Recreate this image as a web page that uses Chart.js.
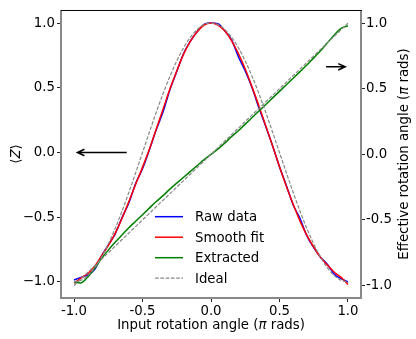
<!DOCTYPE html>
<html>
<head>
<meta charset="utf-8">
<script src="https://cdn.jsdelivr.net/npm/chart.js@4.4.0/dist/chart.umd.min.js"></script>
<style>
  html, body { margin: 0; padding: 0; background: #fff; }
</style>
</head>
<body>
<canvas id="chart" width="416" height="339"></canvas>
<script>
// Input rotation angle (pi rads), shared x values of the measured curves
const angles = [-1.00, -0.95, -0.90, -0.85, -0.80, -0.75, -0.70, -0.65, -0.60, -0.55,
                -0.50, -0.45, -0.40, -0.35, -0.30, -0.25, -0.20, -0.15, -0.10, -0.05,
                 0.00,  0.05,  0.10,  0.15,  0.20,  0.25,  0.30,  0.35,  0.40,  0.45,
                 0.50,  0.55,  0.60,  0.65,  0.70,  0.75,  0.80,  0.85,  0.90,  0.95, 1.00];

// <Z> (left axis)
const rawData = [-0.985, -0.965, -0.945, -0.905, -0.800, -0.715, -0.630, -0.505, -0.390, -0.240,
                 -0.125,  0.020,  0.175,  0.315,  0.485,  0.625,  0.765,  0.860,  0.935,  0.990,
                  1.000,  0.995,  0.940,  0.870,  0.740,  0.630,  0.500,  0.345,  0.200,  0.050,
                 -0.110, -0.255, -0.405, -0.510, -0.645, -0.735, -0.810, -0.865, -0.940, -0.975, -1.000];
const smoothFit = [-1.010, -0.970, -0.935, -0.880, -0.800, -0.720, -0.625, -0.510, -0.380, -0.245,
                   -0.115,  0.025,  0.180,  0.335,  0.490,  0.630,  0.760,  0.860,  0.935,  0.985,
                    1.000,  0.985,  0.940,  0.865,  0.765,  0.645,  0.505,  0.360,  0.205,  0.050,
                   -0.110, -0.260, -0.400, -0.530, -0.640, -0.730, -0.810, -0.870, -0.925, -0.965, -1.020];
const idealZ = [-1.000, -0.988, -0.951, -0.891, -0.809, -0.707, -0.588, -0.454, -0.309, -0.156,
                 0.000,  0.156,  0.309,  0.454,  0.588,  0.707,  0.809,  0.891,  0.951,  0.988,
                 1.000,  0.988,  0.951,  0.891,  0.809,  0.707,  0.588,  0.454,  0.309,  0.156,
                 0.000, -0.156, -0.309, -0.454, -0.588, -0.707, -0.809, -0.891, -0.951, -0.988, -1.000];

// Effective rotation angle (right axis)
const extracted = [-0.975, -0.980, -0.935, -0.870, -0.795, -0.730, -0.670, -0.615, -0.560, -0.510,
                   -0.460, -0.410, -0.360, -0.315, -0.265, -0.220, -0.175, -0.130, -0.085, -0.040,
                    0.000,  0.040,  0.085,  0.135,  0.180,  0.230,  0.280,  0.330,  0.380,  0.430,
                    0.480,  0.530,  0.580,  0.630,  0.680,  0.735,  0.790,  0.850,  0.910,  0.960, 0.980];
const idealLineX = [-1, 1];
const idealLineY = [-1, 1];

const xTicks = [-1, -0.5, 0, 0.5, 1];
const xTickLabels = ['-1.0', '-0.5', '0.0', '0.5', '1.0'];
const zTicks = [-1, -0.5, 0, 0.5, 1];
const zTickLabels = ['\u22121.0', '\u22120.5', '0.0', '0.5', '1.0'];
const effTicks = [-1, -0.5, 0, 0.5, 1];
const effTickLabels = ['-1.0', '-0.5', '0.0', '0.5', '1.0'];

const legendLabels = ['Raw data', 'Smooth fit', 'Extracted', 'Ideal'];

const FAMILY = '"DejaVu Sans", sans-serif';
const SIZE = 13.3;
const GRAY = '#888888';
const DASH = [3.7, 1.6];

function pts(xs, ys) {
    return xs.map((x, i) => ({ x: x, y: ys[i] }));
}

// text with mixed upright / italic parts, centred on (x, y) baseline
function richText(ctx, parts, x, y, angle) {
    ctx.save();
    ctx.translate(x, y);
    ctx.rotate(angle);
    ctx.textAlign = 'left';
    ctx.textBaseline = 'alphabetic';
    ctx.fillStyle = '#000';
    let total = 0;
    parts.forEach(p => {
        ctx.font = (p[1] ? 'italic ' : '') + SIZE + 'px ' + FAMILY;
        total += ctx.measureText(p[0]).width;
    });
    let cx = -total / 2;
    parts.forEach(p => {
        ctx.font = (p[1] ? 'italic ' : '') + SIZE + 'px ' + FAMILY;
        ctx.fillText(p[0], cx, 0);
        cx += ctx.measureText(p[0]).width;
    });
    ctx.restore();
}

function arrow(ctx, x1, y1, x2, y2) {
    const a = Math.atan2(y2 - y1, x2 - x1);
    const len = 7, w = 3.2;
    ctx.beginPath();
    ctx.moveTo(x1, y1);
    ctx.lineTo(x2, y2);
    ctx.moveTo(x2 - len * Math.cos(a) + w * Math.sin(a), y2 - len * Math.sin(a) - w * Math.cos(a));
    ctx.lineTo(x2, y2);
    ctx.lineTo(x2 - len * Math.cos(a) - w * Math.sin(a), y2 - len * Math.sin(a) + w * Math.cos(a));
    ctx.stroke();
}

const decorations = {
    id: 'decorations',
    afterDatasetsDraw(chart) {
        const ctx = chart.ctx;
        const area = chart.chartArea;
        const sx = chart.scales.x, sy = chart.scales.y, sy2 = chart.scales.y2;

        // frame
        ctx.save();
        ctx.lineWidth = 2;
        ctx.strokeStyle = GRAY;
        ctx.beginPath();
        ctx.moveTo(area.left, area.top);
        ctx.lineTo(area.left, area.bottom + 1);
        ctx.moveTo(area.right, area.top);
        ctx.lineTo(area.right, area.bottom + 1);
        ctx.moveTo(area.left - 1, area.bottom);
        ctx.lineTo(area.right + 1, area.bottom);
        ctx.stroke();
        ctx.lineWidth = 1;
        ctx.strokeStyle = '#000';
        ctx.beginPath();
        ctx.moveTo(area.left, area.top + 0.5);
        ctx.lineTo(area.right + 1, area.top + 0.5);
        ctx.stroke();

        // arrows pointing at each curve's axis
        ctx.strokeStyle = '#000';
        ctx.lineWidth = 1.5;
        arrow(ctx, sx.getPixelForValue(-0.615), sy.getPixelForValue(0),
                   sx.getPixelForValue(-0.975), sy.getPixelForValue(0));
        arrow(ctx, sx.getPixelForValue(0.84), sy2.getPixelForValue(0.667),
                   sx.getPixelForValue(0.98), sy2.getPixelForValue(0.667));

        // legend
        const colors = ['#0000ff', '#ff0000', '#008000', GRAY];
        const x0 = area.left + 94, x1 = area.left + 122, tx = area.left + 134;
        const rowTop = area.bottom - 81.3, rowGap = 20.5;
        ctx.font = SIZE + 'px ' + FAMILY;
        ctx.textAlign = 'left';
        ctx.textBaseline = 'middle';
        legendLabels.forEach((label, i) => {
            const y = rowTop + i * rowGap;
            ctx.strokeStyle = colors[i];
            ctx.lineWidth = i === 3 ? 1.2 : 1.5;
            ctx.setLineDash(i === 3 ? DASH : []);
            ctx.beginPath();
            ctx.moveTo(x0, y);
            ctx.lineTo(x1, y);
            ctx.stroke();
            ctx.setLineDash([]);
            ctx.fillStyle = '#000';
            ctx.fillText(label, tx, y + 1);
        });
        ctx.restore();

        // axis titles
        const cx = (area.left + area.right) / 2;
        const cy = (area.top + area.bottom) / 2;
        richText(ctx, [['Input rotation angle (', false], ['\u03c0', true], [' rads)', false]], cx, 329, 0);
        richText(ctx, [['\u27e8', false], ['Z', true], ['\u27e9', false]], 20, cy, -Math.PI / 2);
        richText(ctx, [['Effective rotation angle (', false], ['\u03c0', true], [' rads)', false]], 408, cy, -Math.PI / 2);
    }
};

function tickGrid() {
    return { display: true, drawOnChartArea: false, drawTicks: true, tickLength: 4, color: '#222', lineWidth: 1 };
}

window.onload = function () {
    const ctx = document.getElementById('chart').getContext('2d');
    const line = { pointRadius: 0, borderWidth: 1.5, fill: false, cubicInterpolationMode: 'monotone' };

    new Chart(ctx, {
        type: 'line',
        data: {
            datasets: [
                Object.assign({ label: legendLabels[0], data: pts(angles, rawData), borderColor: '#0000ff', yAxisID: 'y', order: 4 }, line),
                Object.assign({ label: legendLabels[1], data: pts(angles, smoothFit), borderColor: '#ff0000', yAxisID: 'y', order: 3 }, line),
                Object.assign({ label: legendLabels[2], data: pts(angles, extracted), borderColor: '#008000', yAxisID: 'y2', order: 2 }, line),
                Object.assign({ label: legendLabels[3], data: pts(angles, idealZ), borderColor: GRAY, yAxisID: 'y', order: 1 }, line, { borderWidth: 1.2, borderDash: DASH }),
                Object.assign({ label: legendLabels[3], data: pts(idealLineX, idealLineY), borderColor: GRAY, yAxisID: 'y2', order: 1 }, line, { borderWidth: 1.2, borderDash: DASH })
            ]
        },
        options: {
            responsive: false,
            animation: false,
            devicePixelRatio: 1,
            layout: { padding: { top: 5, left: 0, right: 0, bottom: 0 } },
            plugins: { legend: { display: false }, tooltip: { enabled: false } },
            scales: {
                x: {
                    type: 'linear',
                    min: -1.095, max: 1.095,
                    afterFit: s => { s.height = 41; },
                    afterBuildTicks: s => { s.ticks = xTicks.map(v => ({ value: v })); },
                    grid: tickGrid(),
                    border: { display: false },
                    ticks: {
                        autoSkip: false, maxRotation: 0, padding: 2, color: '#000',
                        font: { family: FAMILY, size: SIZE },
                        callback: (v, i) => xTickLabels[i]
                    }
                },
                y: {
                    position: 'left',
                    min: -1.124, max: 1.101,
                    afterFit: s => { s.width = 61; },
                    afterBuildTicks: s => { s.ticks = zTicks.map(v => ({ value: v })); },
                    grid: tickGrid(),
                    border: { display: false },
                    ticks: {
                        autoSkip: false, padding: 2, color: '#000',
                        font: { family: FAMILY, size: SIZE },
                        callback: (v, i) => zTickLabels[i]
                    }
                },
                y2: {
                    position: 'right',
                    min: -1.095, max: 1.1,
                    afterFit: s => { s.width = 55; },
                    afterBuildTicks: s => { s.ticks = effTicks.map(v => ({ value: v })); },
                    grid: tickGrid(),
                    border: { display: false },
                    ticks: {
                        autoSkip: false, padding: 1, color: '#000',
                        font: { family: FAMILY, size: SIZE },
                        callback: (v, i) => effTickLabels[i]
                    }
                }
            }
        },
        plugins: [decorations]
    });
};
</script>
</body>
</html>
